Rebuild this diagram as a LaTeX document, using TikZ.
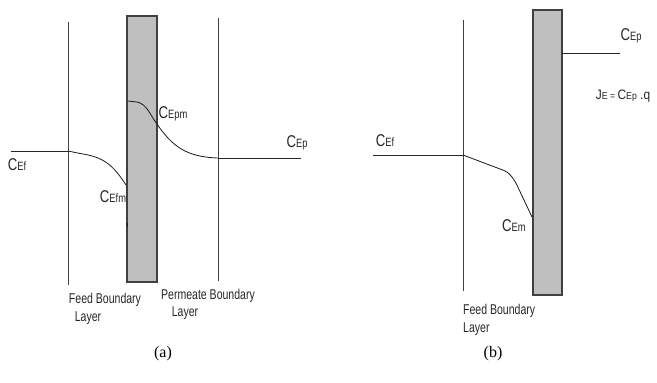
\documentclass[tikz,border=0pt]{standalone}
\usepackage{fontspec}
\usepackage{graphicx}
\setmainfont{Liberation Sans}
\newfontfamily\serifcap{Liberation Serif}
\newcommand{\Csub}[2]{\scalebox{0.85}[1.1]{{\fontsize{15.5}{18}\selectfont #1}{\fontsize{11}{12}\selectfont #2}}}
\newcommand{\blab}[1]{\scalebox{0.78}[1.05]{\fontsize{13.5}{15}\selectfont #1}}
\tikzset{
  lbl/.style={inner sep=0pt, text=black!85},
  wall/.style={draw=black!75, line width=0.8pt},
  conc/.style={draw=black!85, line width=1pt},
  prof/.style={draw=black!90, line width=0.8pt},
  membrane/.style={draw=black!75, line width=1.1pt, fill=black!25, inner sep=0pt, rectangle},
}
\begin{document}
\begin{tikzpicture}[x=1pt,y=-1pt]
\useasboundingbox (0,0) rectangle (657,383);
% ---------------- (a) ----------------
\node[membrane, minimum width=30pt, minimum height=266pt] (memA) at (142,149) {};
\coordinate (fbAt) at (68,22);  \coordinate (fbAb) at (68,285);
\coordinate (pbAt) at (218,18); \coordinate (pbAb) at (218,281);
\draw[wall] (fbAt) -- (fbAb);
\draw[wall] (pbAt) -- (pbAb);
\coordinate (cefA) at (11,151);
\coordinate (fbA) at (68,151);
\coordinate (efmA) at (126,185);
\coordinate (epmA) at (128,101);
\coordinate (pbA) at (218,158);
\coordinate (cepA) at (301,158);
\draw[conc] (cefA) -- (fbA);
\draw[prof] (fbA) -- (80,153.5) .. controls (104,157) and (113,165) .. (efmA);
\draw[prof] (epmA) -- (137,102) .. controls (147,104) and (150,115) .. (157,124)
   .. controls (172,146) and (186,157) .. (pbA);
\draw[conc] (pbA) -- (cepA);
\coordinate (dotA1) at (127,223); \coordinate (dotA2) at (127,227);
\draw[prof] (dotA1) -- (dotA2);
\node[lbl] (lCefA) at (17,165) {\Csub{C}{Ef}};
\node[lbl] (lCefmA) at (113,197) {\Csub{C}{Efm}};
\node[lbl] (lCepmA) at (173,114) {\Csub{C}{Epm}};
\node[lbl] (lCepA) at (297,143) {\Csub{C}{Ep}};
\node[lbl] (fblA1) at (105,300) {\blab{Feed Boundary}};
\node[lbl] (fblA2) at (88,318) {\blab{Layer}};
\node[lbl] (pblA1) at (208,296) {\blab{Permeate Boundary}};
\node[lbl] (pblA2) at (185,313) {\blab{Layer}};
\node[lbl, text=black] (capA) at (163,354) {\serifcap\fontsize{16}{18}\selectfont (a)};
% ---------------- (b) ----------------
\node[membrane, minimum width=29pt, minimum height=285pt] (memB) at (547.5,152.5) {};
\coordinate (fbBt) at (463,20); \coordinate (fbBb) at (463,291);
\draw[wall] (fbBt) -- (fbBb);
\coordinate (cefB) at (373,155);
\coordinate (fbB) at (463,155);
\coordinate (emB) at (532,217);
\draw[conc] (cefB) -- (fbB);
\draw[prof, rounded corners=4pt] (fbB) -- (508,172) -- (515,181) -- (emB);
\coordinate (cepB0) at (562,53);
\coordinate (cepB1) at (620,53);
\draw[conc] (cepB0) -- (cepB1);
\node[lbl] (lCepB) at (631,36) {\Csub{C}{Ep}};
\node[lbl] (jB) at (623,96) {\scalebox{0.92}[1.05]{\fontsize{13}{15}\selectfont J{\fontsize{9.5}{11}\selectfont E = }C{\fontsize{9.5}{11}\selectfont Ep} .q}};
\node[lbl] (lCefB) at (385,141) {\Csub{C}{Ef}};
\node[lbl] (lCemB) at (514,226) {\Csub{C}{Em}};
\node[lbl, anchor=west] (fblB1) at (463,311) {\blab{Feed Boundary}};
\node[lbl, anchor=west] (fblB2) at (463,329) {\blab{Layer}};
\node[lbl, text=black] (capB) at (493,354) {\serifcap\fontsize{16}{18}\selectfont (b)};
\end{tikzpicture}
\end{document}
